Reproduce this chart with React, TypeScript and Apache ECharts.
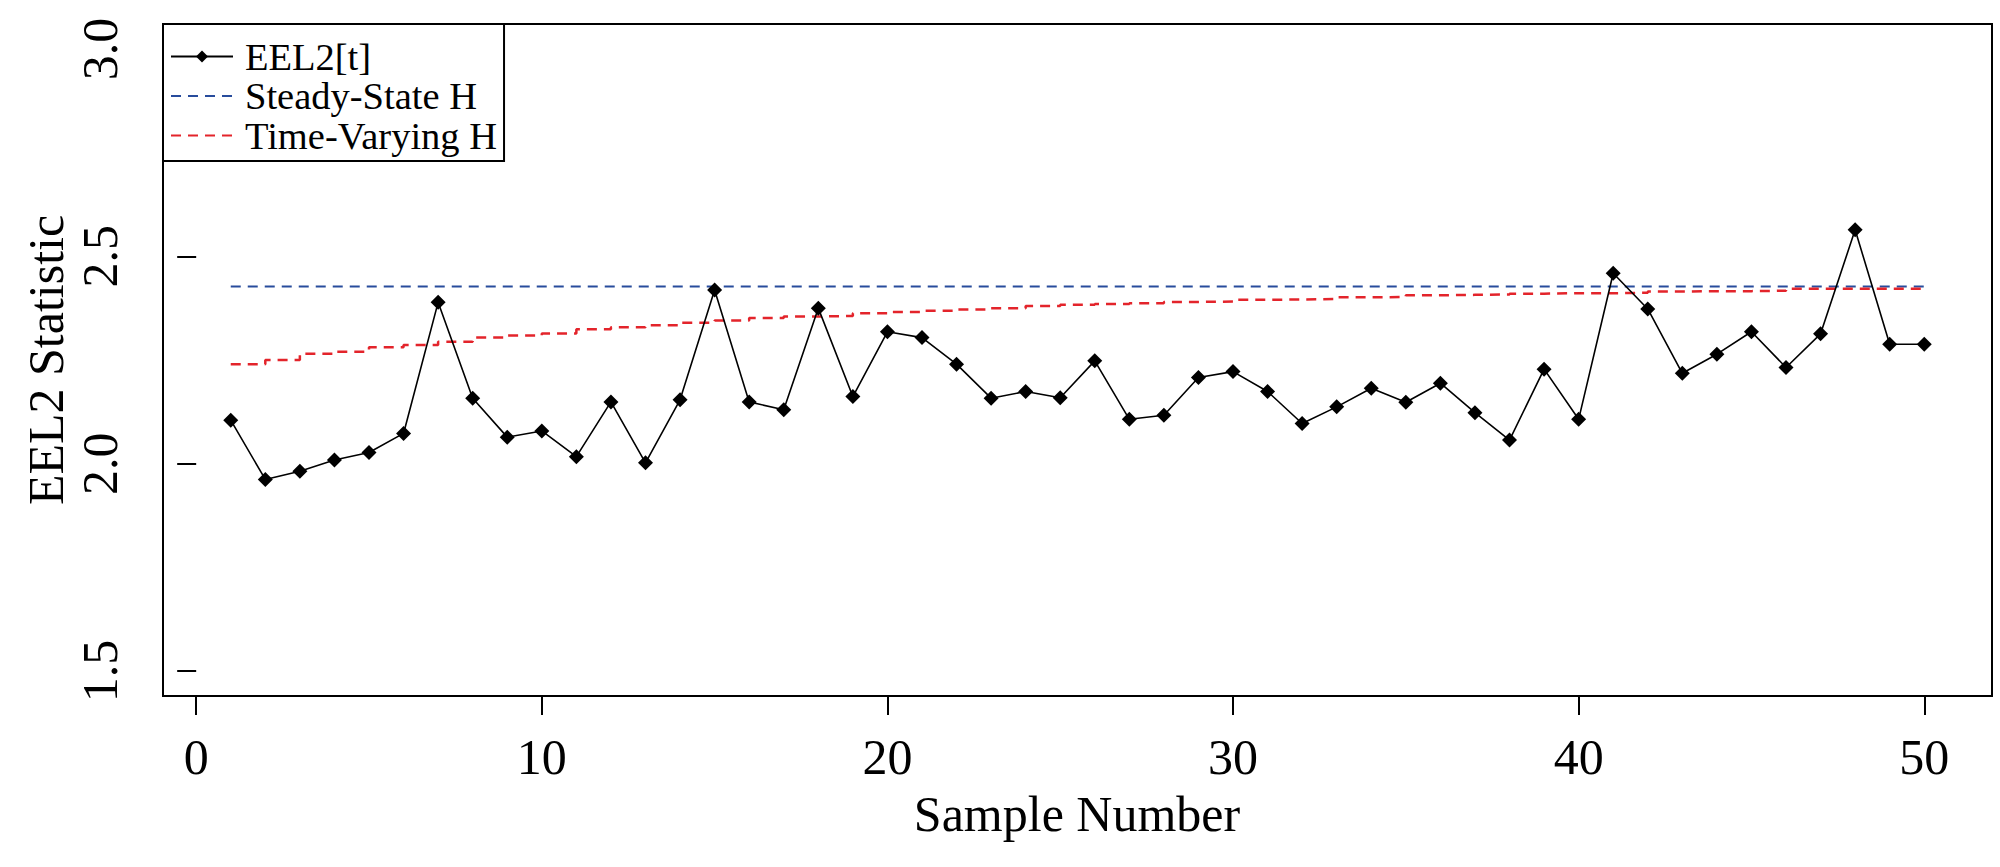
import React, { useEffect, useRef } from "react";
import * as echarts from "echarts";

const sampleNumbers = [
  1, 2, 3, 4, 5, 6, 7, 8, 9, 10, 11, 12, 13, 14, 15, 16, 17, 18, 19, 20, 21, 22, 23, 24, 25,
  26, 27, 28, 29, 30, 31, 32, 33, 34, 35, 36, 37, 38, 39, 40, 41, 42, 43, 44, 45, 46, 47, 48, 49, 50,
];

const eel2Values = [
  2.105, 1.962, 1.982, 2.009, 2.027, 2.073, 2.389, 2.158, 2.064, 2.079,
  2.017, 2.149, 2.002, 2.154, 2.419, 2.149, 2.13, 2.375, 2.162, 2.318,
  2.304, 2.24, 2.158, 2.174, 2.159, 2.248, 2.107, 2.117, 2.208, 2.222,
  2.174, 2.097, 2.137, 2.182, 2.148, 2.194, 2.123, 2.057, 2.228, 2.107,
  2.459, 2.373, 2.218, 2.264, 2.318, 2.232, 2.313, 2.564, 2.288, 2.288,
];

const timeVaryingH = [
  2.24, 2.25, 2.265, 2.27, 2.281, 2.286, 2.294, 2.304, 2.309, 2.314,
  2.324, 2.329, 2.334, 2.34, 2.345, 2.351, 2.355, 2.356, 2.363, 2.366,
  2.369, 2.372, 2.375, 2.38, 2.383, 2.385, 2.387, 2.39, 2.391, 2.395,
  2.396, 2.397, 2.401, 2.402, 2.406, 2.407, 2.408, 2.41, 2.411, 2.411,
  2.412, 2.415, 2.416, 2.416, 2.417, 2.422, 2.422, 2.422, 2.422, 2.427,
];

const steadyStateH = 2.427;
const steadyStateRange = [1, 50];

const xTicks = [0, 10, 20, 30, 40, 50];
const yTicks = [1.5, 2.0, 2.5, 3.0];

const seriesNames = ["EEL2[t]", "Steady-State H", "Time-Varying H"];

const FONT = "'Liberation Serif', 'Times New Roman', serif";

export default function App() {
  const ref = useRef<HTMLDivElement>(null);

  useEffect(() => {
    document.body.style.margin = "0";
    if (!ref.current) return;
    const chart = echarts.init(ref.current, null, { renderer: "svg" });

    const option: any = {
      animation: false,
      backgroundColor: "#ffffff",
      grid: {
        left: 163,
        right: 8,
        top: 24,
        bottom: 171,
        show: true,
        borderColor: "#000000",
        borderWidth: 2,
        backgroundColor: "transparent",
      },
      xAxis: {
        type: "value",
        min: -0.96,
        max: 51.96,
        axisLine: { show: false },
        splitLine: { show: false },
        axisTick: {
          show: true,
          length: 19,
          customValues: xTicks,
          lineStyle: { color: "#000000", width: 2 },
        },
        axisLabel: {
          show: true,
          customValues: xTicks,
          formatter: (v: number) => String(v),
          fontFamily: FONT,
          fontSize: 50,
          color: "#000000",
          margin: 61,
          verticalAlign: "middle",
          align: "center",
        },
      },
      yAxis: {
        type: "value",
        min: 1.44,
        max: 3.06,
        axisLine: { show: false },
        splitLine: { show: false },
        axisTick: {
          show: true,
          length: 19,
          customValues: yTicks,
          lineStyle: { color: "#000000", width: 2 },
        },
        axisLabel: {
          show: true,
          customValues: yTicks,
          formatter: (v: number) => v.toFixed(1),
          fontFamily: FONT,
          fontSize: 50,
          color: "#000000",
          rotate: 90,
          margin: 63,
          verticalAlign: "middle",
          align: "center",
        },
      },
      legend: {
        show: true,
        orient: "vertical",
        left: 163,
        top: 24,
        data: [
          { name: seriesNames[0] },
          { name: seriesNames[1], itemStyle: { opacity: 0 } },
          { name: seriesNames[2], itemStyle: { opacity: 0 } },
        ],
        backgroundColor: "#ffffff",
        borderColor: "#000000",
        borderWidth: 2,
        borderRadius: 0,
        padding: [13, 7, 6, 7],
        itemGap: 0.5,
        itemWidth: 62,
        itemHeight: 15,
        textStyle: {
          fontFamily: FONT,
          fontSize: 38.5,
          lineHeight: 38,
          color: "#000000",
          padding: [0, 0, 0, 7],
        },
      },
      graphic: [
        {
          type: "text",
          x: 1077,
          y: 814,
          style: {
            text: "Sample Number",
            font: `50px ${FONT}`,
            fill: "#000000",
            textAlign: "center",
            textVerticalAlign: "middle",
          },
        },
        {
          type: "text",
          x: 46,
          y: 360,
          rotation: Math.PI / 2,
          style: {
            text: "EEL2 Statistic",
            font: `50px ${FONT}`,
            fill: "#000000",
            textAlign: "center",
            textVerticalAlign: "middle",
          },
        },
      ],
      series: [
        {
          name: seriesNames[0],
          type: "line",
          data: sampleNumbers.map((s, i) => [s, eel2Values[i]]),
          symbol: "diamond",
          symbolSize: 15,
          color: "#000000",
          itemStyle: { color: "#000000" },
          lineStyle: { color: "#000000", width: 1.6 },
          z: 3,
        },
        {
          name: seriesNames[1],
          type: "line",
          data: steadyStateRange.map((s) => [s, steadyStateH]),
          symbol: "none",
          color: "#284c9c",
          lineStyle: { color: "#284c9c", width: 2, type: [10, 7] },
          z: 2,
        },
        {
          name: seriesNames[2],
          type: "line",
          step: "end",
          data: sampleNumbers.map((s, i) => [s, timeVaryingH[i]]),
          symbol: "none",
          color: "#e3242b",
          lineStyle: { color: "#e3242b", width: 2.5, type: [10, 7] },
          z: 2,
        },
      ],
    };

    chart.setOption(option);
    return () => chart.dispose();
  }, []);

  return <div ref={ref} style={{ width: 2000, height: 867 }} />;
}
